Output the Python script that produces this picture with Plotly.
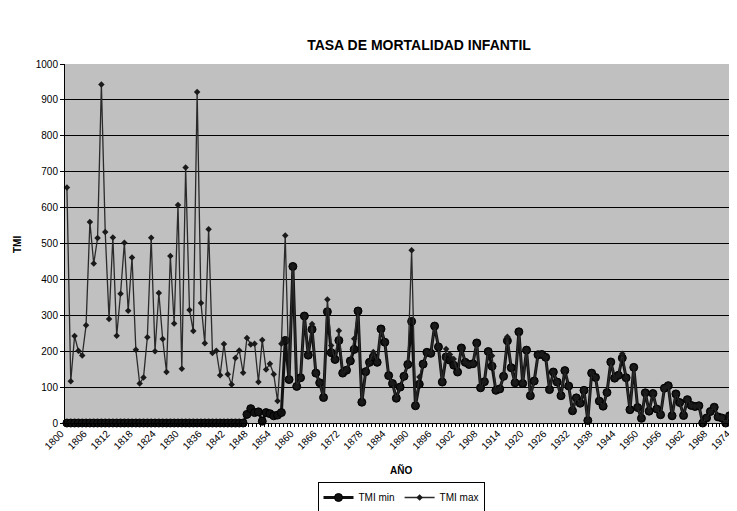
import plotly.graph_objects as go

# years on the category axis
years = list(range(1800, 1975))

# TMI min: zero until 1846, values read from 1847 on
tmi_min_1847 = [
    24, 40, 29, 31, 5, 29, 26, 20, 22, 29,            # 1847-1856
    230, 121, 436, 102, 126, 298, 189, 261, 139, 112,  # 1857-1866
    71, 310, 196, 177, 230, 139, 147, 173, 205, 312,   # 1867-1876
    58, 143, 169, 184, 169, 262, 225, 132, 110, 69,    # 1877-1886
    100, 130, 163, 283, 48, 108, 164, 197, 194, 270,   # 1887-1896
    212, 114, 184, 175, 161, 142, 209, 169, 163, 165,  # 1897-1906
    223, 98, 115, 199, 158, 91, 95, 130, 229, 154,     # 1907-1916
    112, 254, 110, 203, 76, 117, 190, 191, 183, 93,    # 1917-1926
    142, 114, 76, 146, 103, 34, 70, 55, 91, 7,         # 1927-1936
    139, 127, 61, 47, 85, 170, 125, 133, 181, 126,     # 1937-1946
    37, 155, 43, 13, 84, 33, 82, 39, 23, 97,           # 1947-1956
    104, 20, 81, 57, 21, 65, 49, 46, 48, 0,            # 1957-1966
    14, 32, 44, 17, 14, 0, 20, 0,                      # 1967-1974
]

# TMI max: read values 1800-1857
tmi_max_early = [
    656, 116, 242, 201, 188, 272, 560, 444, 515, 943,
    532, 290, 517, 243, 360, 502, 313, 461, 204, 110,
    127, 239, 516, 200, 362, 234, 142, 465, 277, 607,
    151, 712, 315, 256, 922, 334, 222, 540, 195, 201,
    133, 220, 136, 107, 181, 202, 140, 237, 219, 221,
    114, 231, 149, 165, 136, 61, 221, 522,
]
# after 1857 max sits on min except at these years
max_spike_years = [1864, 1868, 1869, 1871, 1873, 1875, 1880, 1890, 1892,
                   1899, 1900, 1901, 1911, 1915, 1945]
max_spike_vals = [276, 344, 216, 257, 150, 235, 198, 481, 128,
                  206, 191, 178, 187, 240, 193]

tick_years = list(range(1800, 1975, 6))

tmi_min = [0] * (1847 - 1800) + tmi_min_1847
assert len(tmi_min) == len(years)
spikes = dict(zip(max_spike_years, max_spike_vals))
n_early = len(tmi_max_early)
tmi_max = tmi_max_early + [spikes.get(y, v) for y, v in zip(years[n_early:], tmi_min[n_early:])]
assert len(tmi_max) == len(years)

FONT = "Arial, Liberation Sans, sans-serif"
# the page body adds an 8px margin, so the figure is sized to the visible window
OFF = 8
W, H = 737 - OFF, 511 - OFF
L, T, B = 65 - OFF, 64 - OFF, 423 - OFF  # plot area in figure pixels


def px_x(sx):
    """screen x -> paper x of the plot area"""
    return (sx - OFF - L) / (W - L)


def px_y(sy):
    """screen y -> paper y of the plot area"""
    return (B - (sy - OFF)) / (B - T)


fig = go.Figure()
fig.add_trace(go.Scatter(
    x=years, y=tmi_min, name="TMI min", mode="lines+markers",
    line=dict(color="#111111", width=3),
    marker=dict(symbol="circle", size=8, color="#111111",
                line=dict(color="#000000", width=1)),
    cliponaxis=False,
))
fig.add_trace(go.Scatter(
    x=years, y=tmi_max, name="TMI max", mode="lines+markers",
    line=dict(color="#2a2a2a", width=1.3),
    marker=dict(symbol="diamond", size=5, color="#1a1a1a"),
    cliponaxis=False,
))

fig.update_layout(
    width=W, height=H,
    margin=dict(l=L, r=0, t=T, b=H - B, autoexpand=False),
    paper_bgcolor="white",
    plot_bgcolor="#C0C0C0",
    font=dict(family=FONT, size=10, color="black"),
    title=dict(text="<b>TASA DE MORTALIDAD INFANTIL</b>", x=(419 - OFF) / W, xanchor="center",
               y=1 - (45 - OFF) / H, yanchor="middle", font=dict(size=14)),
    showlegend=True,
    legend=dict(orientation="h", x=px_x(401), xanchor="center", y=px_y(482), yanchor="top",
                bordercolor="black", borderwidth=1, bgcolor="white",
                font=dict(size=10), itemwidth=30, tracegroupgap=0),
    xaxis=dict(
        range=[1799.5, 1974.95],
        tickmode="array",
        tickvals=[y - 0.5 for y in tick_years],
        ticktext=[str(y) for y in tick_years],
        tickangle=-45,
        ticklabelshift=-4,
        ticks="", ticklen=4,
        minor=dict(tick0=1799.5, dtick=1, ticks="outside", ticklen=3, tickcolor="black"),
        showgrid=False, zeroline=False,
        showline=True, linecolor="black", linewidth=1,
        tickfont=dict(size=10), automargin=False,
    ),
    yaxis=dict(
        range=[0, 1000], dtick=100,
        ticks="outside", ticklen=4, tickcolor="black",
        showgrid=True, gridcolor="black", gridwidth=1,
        zeroline=False,
        showline=True, linecolor="black", linewidth=1,
        tickfont=dict(size=10), automargin=False,
    ),
    annotations=[
        dict(text="<b>TMI</b>", x=px_x(18), y=px_y(245),
             xref="paper", yref="paper", xanchor="center", yanchor="middle",
             showarrow=False, textangle=-90, font=dict(size=10)),
        dict(text="<b>AÑO</b>", x=px_x(401), y=px_y(470),
             xref="paper", yref="paper", xanchor="center", yanchor="middle",
             showarrow=False, font=dict(size=10)),
    ],
)

fig.write_html("out.html")
